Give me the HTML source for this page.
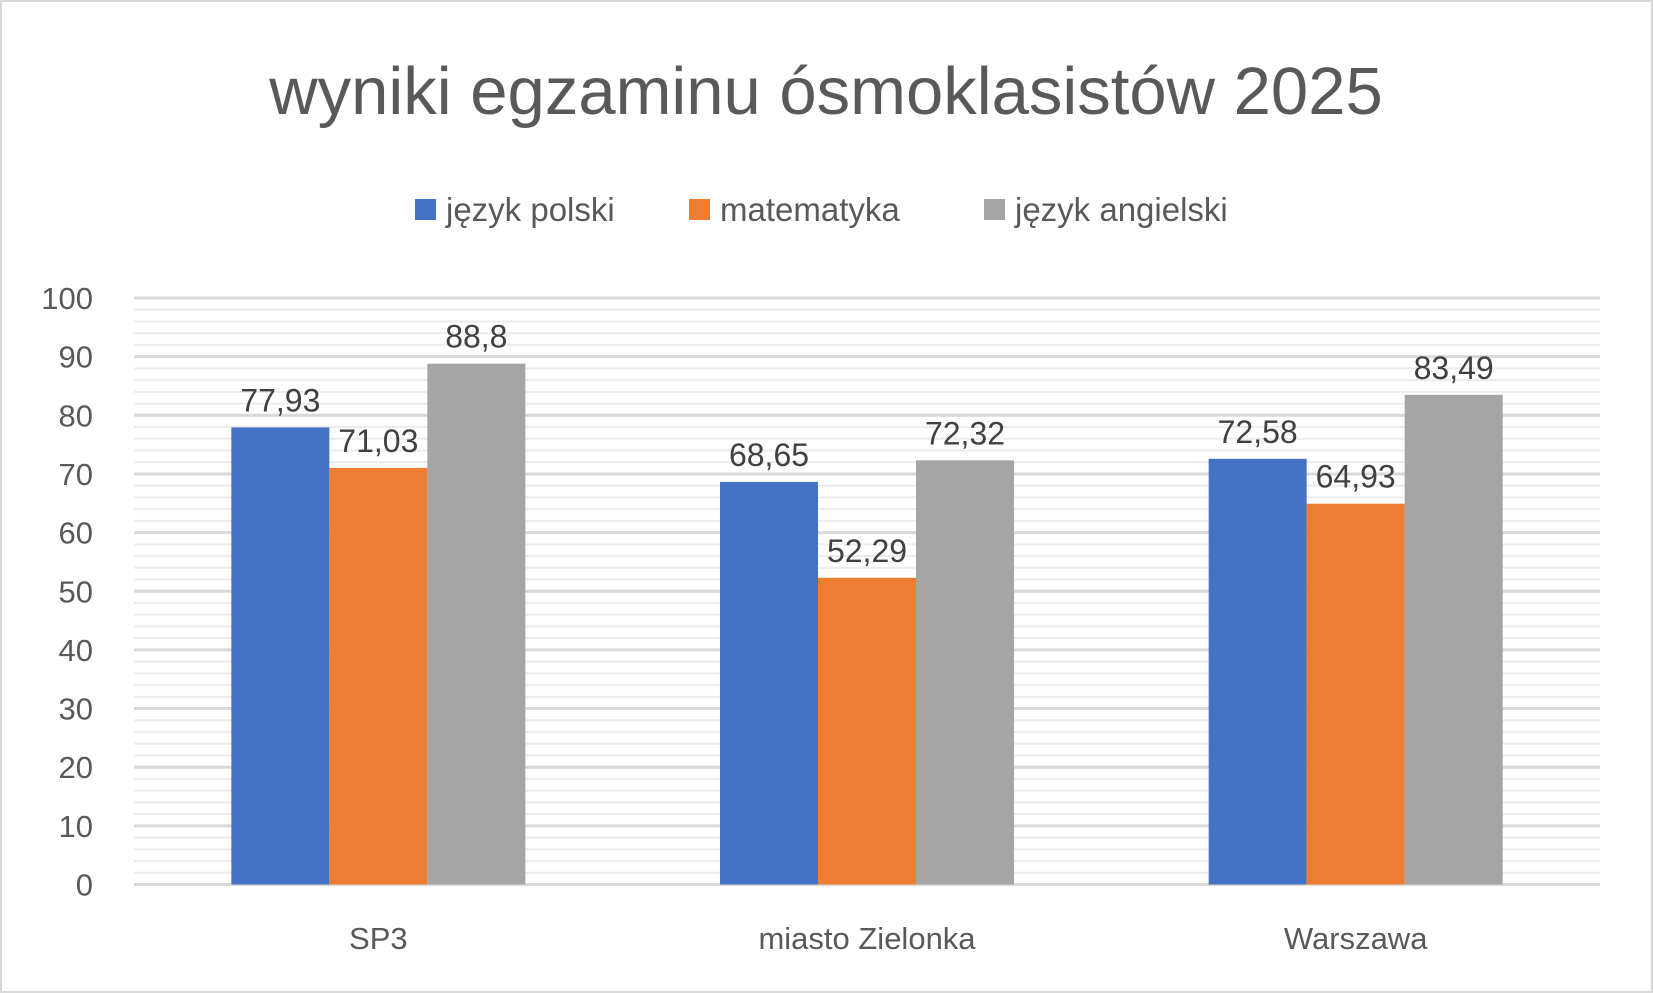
<!DOCTYPE html>
<html><head><meta charset="utf-8"><style>
html,body{margin:0;padding:0;background:#fff}
svg{display:block;font-family:"Liberation Sans",sans-serif}
</style></head><body>
<svg id="c" width="1653" height="993" viewBox="0 0 1653 993">
<rect x="1" y="1" width="1651" height="991" fill="#fff" stroke="#d9d9d9" stroke-width="2"/>
<text x="826" y="114" text-anchor="middle" font-size="67" fill="#595959">wyniki egzaminu ósmoklasistów 2025</text>
<g id="legend"></g>
<g id="grid"></g>
<g id="yaxis"></g>
<g id="bars"></g>
<g id="xaxis"></g>
</svg>
<script>
const categories=["SP3","miasto Zielonka","Warszawa"];
const seriesNames=["język polski","matematyka","język angielski"];
const polski=[77.93,68.65,72.58];
const matematyka=[71.03,52.29,64.93];
const angielski=[88.8,72.32,83.49];
const labelsPolski=["77,93","68,65","72,58"];
const labelsMat=["71,03","52,29","64,93"];
const labelsAng=["88,8","72,32","83,49"];
const yTicks=[0,10,20,30,40,50,60,70,80,90,100];
const colors=["#4472c4","#ed7d31","#a5a5a5"];
const NS="http://www.w3.org/2000/svg";
const L=134,R=1600,T=298,B=884.5,yMax=100;
const y=v=>B-(v/yMax)*(B-T);
const catW=(R-L)/categories.length, barW=98;
const x=(ci,si)=>L+catW*(ci+0.5)-barW*1.5+barW*si;
function mk(tag,attrs,parent){const e=document.createElementNS(NS,tag);for(const k in attrs)e.setAttribute(k,attrs[k]);parent.appendChild(e);return e;}
const grid=document.getElementById('grid');
for(let v=0;v<=yMax;v+=2){
  const major=v%10===0;
  const ln=mk('line',{x1:L,x2:R,y1:y(v),y2:y(v),stroke:major?'#d9d9d9':'#ececec','stroke-width':major?3:2},grid);
  
  
}
const ya=document.getElementById('yaxis');
yTicks.forEach(v=>{
  const t=mk('text',{x:93,y:y(v)+11,'text-anchor':'end','font-size':31,fill:'#595959'},ya);
  t.textContent=v;
  
  
});
const bars=document.getElementById('bars');
const series=[polski,matematyka,angielski];
const labels=[labelsPolski,labelsMat,labelsAng];
series.forEach((s,si)=>{
  s.forEach((v,ci)=>{
    const r=mk('rect',{x:x(ci,si),y:y(v),width:barW,height:B-y(v),fill:colors[si]},bars);
    
    
    const t=mk('text',{x:x(ci,si)+barW/2,y:y(v)-16,'text-anchor':'middle','font-size':32,fill:'#404040'},bars);
    t.textContent=labels[si][ci];
    
    
  });
});
const xa=document.getElementById('xaxis');
categories.forEach((c,ci)=>{
  const t=mk('text',{x:L+catW*(ci+0.5),y:949,'text-anchor':'middle','font-size':31,fill:'#595959'},xa);
  t.textContent=c;
  
  
});
const lg=document.getElementById('legend');
const lx=[415,689,984];
seriesNames.forEach((n,i)=>{
  const r=mk('rect',{x:lx[i],y:199,width:21,height:21,fill:colors[i]},lg);
  
  
  const t=mk('text',{x:lx[i]+31,y:221,'font-size':33,fill:'#595959'},lg);
  t.textContent=n;
  
  
});
</script>
</body></html>
